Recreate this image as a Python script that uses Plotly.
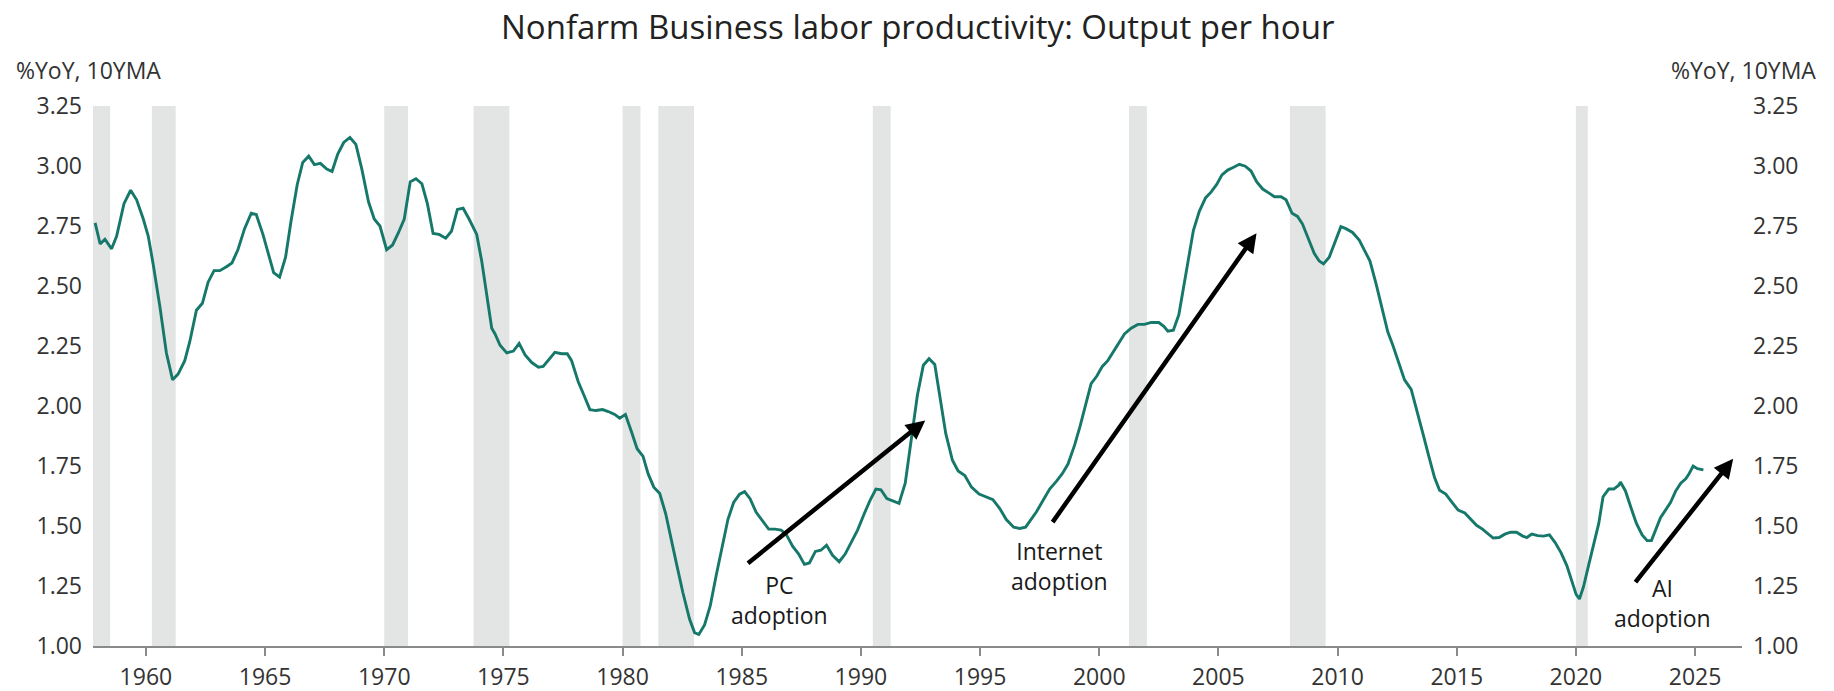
import plotly.graph_objects as go

years = [
    1957.87, 1958.08, 1958.28, 1958.56, 1958.77, 1959.08, 1959.36, 1959.61, 1959.89,
    1960.10, 1960.31, 1960.59, 1960.86, 1961.12, 1961.35, 1961.63, 1961.84, 1962.12,
    1962.37, 1962.61, 1962.86, 1963.10, 1963.38, 1963.61, 1963.86, 1964.14, 1964.42,
    1964.63, 1964.91, 1965.12, 1965.36, 1965.61, 1965.86, 1966.09, 1966.35, 1966.58,
    1966.83, 1967.07, 1967.32, 1967.59, 1967.81, 1968.05, 1968.30, 1968.56, 1968.81,
    1969.06, 1969.34, 1969.58, 1969.82, 1970.10, 1970.35, 1970.60, 1970.84, 1971.09,
    1971.33, 1971.58, 1971.81, 1972.05, 1972.30, 1972.58, 1972.82, 1973.07, 1973.31,
    1973.56, 1973.88, 1974.09, 1974.30, 1974.51, 1974.65, 1974.86, 1975.14, 1975.42,
    1975.66, 1975.91, 1976.19, 1976.47, 1976.67, 1976.93, 1977.16, 1977.44, 1977.68,
    1977.86, 1978.14, 1978.38, 1978.63, 1978.88, 1979.16, 1979.40, 1979.67, 1979.88,
    1980.12, 1980.37, 1980.61, 1980.86, 1981.07, 1981.31, 1981.56, 1981.81, 1982.05,
    1982.28, 1982.53, 1982.81, 1983.02, 1983.20, 1983.44, 1983.68, 1983.93, 1984.21,
    1984.42, 1984.66, 1984.91, 1985.12, 1985.35, 1985.60, 1985.86, 1986.13, 1986.40,
    1986.65, 1986.86, 1987.14, 1987.39, 1987.63, 1987.84, 1988.09, 1988.32, 1988.56,
    1988.81, 1989.09, 1989.34, 1989.58, 1989.86, 1990.14, 1990.38, 1990.63, 1990.84,
    1991.09, 1991.33, 1991.60, 1991.86, 1992.09, 1992.37, 1992.62, 1992.86, 1993.10,
    1993.31, 1993.56, 1993.84, 1994.08, 1994.36, 1994.64, 1994.96, 1995.27, 1995.54,
    1995.82, 1996.10, 1996.41, 1996.66, 1996.91, 1997.15, 1997.36, 1997.64, 1997.92,
    1998.20, 1998.45, 1998.69, 1998.97, 1999.20, 1999.46, 1999.66, 1999.90, 2000.13,
    2000.36, 2000.57, 2000.82, 2001.06, 2001.34, 2001.62, 2001.90, 2002.18, 2002.50,
    2002.71, 2002.88, 2003.11, 2003.34, 2003.58, 2003.76, 2003.95, 2004.20, 2004.46,
    2004.69, 2004.93, 2005.15, 2005.39, 2005.64, 2005.88, 2006.13, 2006.37, 2006.61,
    2006.86, 2007.11, 2007.35, 2007.63, 2007.84, 2008.09, 2008.32, 2008.53, 2008.79,
    2009.02, 2009.23, 2009.41, 2009.65, 2009.90, 2010.14, 2010.35, 2010.63, 2010.91,
    2011.12, 2011.36, 2011.62, 2011.87, 2012.11, 2012.32, 2012.57, 2012.81, 2013.09,
    2013.34, 2013.58, 2013.83, 2014.07, 2014.28, 2014.54, 2014.78, 2015.06, 2015.34,
    2015.58, 2015.83, 2016.08, 2016.32, 2016.53, 2016.78, 2017.02, 2017.26, 2017.51,
    2017.77, 2017.94, 2018.15, 2018.40, 2018.64, 2018.89, 2019.13, 2019.38, 2019.62,
    2019.83, 2020.01, 2020.15, 2020.32, 2020.53, 2020.74, 2020.96, 2021.14, 2021.38,
    2021.59, 2021.80, 2021.87, 2022.08, 2022.32, 2022.54, 2022.78, 2022.99, 2023.17,
    2023.34, 2023.55, 2023.76, 2023.97, 2024.19, 2024.40, 2024.61, 2024.75, 2024.92,
    2025.10, 2025.35,
]

values = [
    2.763, 2.675, 2.695, 2.655, 2.707, 2.843, 2.899, 2.859, 2.779,
    2.707, 2.588, 2.412, 2.221, 2.109, 2.133, 2.189, 2.268, 2.399,
    2.428, 2.516, 2.564, 2.564, 2.580, 2.596, 2.651, 2.739, 2.803,
    2.798, 2.715, 2.636, 2.556, 2.537, 2.620, 2.771, 2.923, 3.015,
    3.041, 3.006, 3.011, 2.987, 2.977, 3.050, 3.098, 3.119, 3.090,
    2.987, 2.851, 2.779, 2.750, 2.651, 2.671, 2.723, 2.779, 2.934,
    2.947, 2.926, 2.843, 2.719, 2.715, 2.699, 2.728, 2.819, 2.824,
    2.779, 2.715, 2.604, 2.460, 2.324, 2.300, 2.253, 2.221, 2.229,
    2.261, 2.213, 2.181, 2.162, 2.165, 2.197, 2.224, 2.218, 2.218,
    2.189, 2.101, 2.045, 1.985, 1.981, 1.985, 1.977, 1.965, 1.949,
    1.965, 1.894, 1.822, 1.790, 1.718, 1.662, 1.635, 1.551, 1.447,
    1.335, 1.223, 1.112, 1.056, 1.048, 1.088, 1.168, 1.295, 1.431,
    1.527, 1.598, 1.633, 1.643, 1.614, 1.558, 1.522, 1.487, 1.487,
    1.483, 1.466, 1.415, 1.383, 1.340, 1.346, 1.394, 1.399, 1.420,
    1.378, 1.351, 1.383, 1.431, 1.483, 1.551, 1.606, 1.654, 1.651,
    1.614, 1.606, 1.594, 1.678, 1.854, 2.045, 2.170, 2.197, 2.173,
    2.045, 1.886, 1.774, 1.729, 1.710, 1.662, 1.633, 1.622, 1.610,
    1.574, 1.527, 1.495, 1.490, 1.495, 1.527, 1.558, 1.606, 1.654,
    1.686, 1.718, 1.758, 1.838, 1.917, 2.013, 2.093, 2.125, 2.165,
    2.189, 2.221, 2.261, 2.300, 2.324, 2.340, 2.340, 2.348, 2.348,
    2.332, 2.312, 2.316, 2.380, 2.524, 2.636, 2.731, 2.811, 2.867,
    2.891, 2.923, 2.963, 2.983, 2.995, 3.007, 2.999, 2.979, 2.934,
    2.904, 2.888, 2.872, 2.872, 2.859, 2.803, 2.790, 2.758, 2.691,
    2.636, 2.604, 2.592, 2.620, 2.683, 2.747, 2.739, 2.723, 2.691,
    2.651, 2.604, 2.508, 2.412, 2.308, 2.253, 2.181, 2.109, 2.069,
    1.981, 1.886, 1.790, 1.702, 1.649, 1.633, 1.602, 1.566, 1.554,
    1.527, 1.503, 1.487, 1.466, 1.450, 1.452, 1.466, 1.474, 1.474,
    1.458, 1.452, 1.466, 1.460, 1.458, 1.463, 1.431, 1.388, 1.335,
    1.271, 1.215, 1.196, 1.247, 1.335, 1.423, 1.511, 1.622, 1.654,
    1.654, 1.670, 1.683, 1.646, 1.574, 1.511, 1.463, 1.439, 1.439,
    1.479, 1.535, 1.566, 1.598, 1.646, 1.678, 1.697, 1.718, 1.750,
    1.739, 1.734,
]

# NBER recessions (quarterly shading)
rec_start = [1957.75, 1960.25, 1970.00, 1973.75, 1980.00, 1981.50, 1990.50, 2001.25, 2008.00, 2020.00]
rec_end = [1958.50, 1961.25, 1971.00, 1975.25, 1980.75, 1983.00, 1991.25, 2002.00, 2009.50, 2020.50]

x_ticks = [1960, 1965, 1970, 1975, 1980, 1985, 1990, 1995, 2000, 2005, 2010, 2015, 2020, 2025]
y_ticks = [1.00, 1.25, 1.50, 1.75, 2.00, 2.25, 2.50, 2.75, 3.00, 3.25]

title_text = "Nonfarm Business labor productivity: Output per hour"
axis_label = "%YoY, 10YMA"

# arrows: (tail_x, tail_y, head_x, head_y)
arrows = [
    (1985.2, 1.34, 1992.7, 1.94),
    (1998.0, 1.51, 2006.6, 2.72),
    (2022.45, 1.26, 2026.6, 1.78),
]
arrow_labels = [
    (1986.6, 1.19, "PC<br>adoption"),
    (1998.35, 1.335, "Internet<br>adoption"),
    (2023.65, 1.18, "AI<br>adoption"),
]

FONT = "Open Sans, Noto Sans, sans-serif"
TXT = "#333333"
LINE = "#15786a"

PLOT_TOP, PLOT_BOTTOM = 106, 646
PLOT_H = PLOT_BOTTOM - PLOT_TOP


def paper_y(px):
    return (PLOT_BOTTOM - px) / PLOT_H


fig = go.Figure()
fig.add_trace(go.Scatter(x=years, y=values, mode="lines",
                         line=dict(color=LINE, width=2.9), hoverinfo="x+y",
                         showlegend=False))
fig.add_trace(go.Scatter(x=years, y=values, mode="lines", yaxis="y2",
                         line=dict(color="rgba(0,0,0,0)", width=0), hoverinfo="skip",
                         showlegend=False))

for s, e in zip(rec_start, rec_end):
    fig.add_shape(type="rect", xref="x", yref="y domain", x0=s, x1=e, y0=0, y1=1,
                  fillcolor="#e3e4e4", line=dict(width=0), layer="below")

annotations = []
for tx, ty, hx, hy in arrows:
    annotations.append(dict(x=hx, y=hy, ax=tx, ay=ty, xref="x", yref="y",
                            axref="x", ayref="y", text="", showarrow=True,
                            arrowhead=2, arrowsize=0.85, arrowwidth=4.5,
                            arrowcolor="#000000", standoff=0, startstandoff=0))
for lx, ly, t in arrow_labels:
    annotations.append(dict(x=lx, y=ly, xref="x", yref="y", text=t, showarrow=False,
                            font=dict(family=FONT, size=23, color="#1a1a1a"),
                            align="center", xanchor="center", yanchor="middle"))
annotations.append(dict(x=-0.048, y=paper_y(70), xref="paper", yref="paper", text=axis_label,
                        showarrow=False, xanchor="left", yanchor="middle",
                        font=dict(family=FONT, size=23, color=TXT)))
annotations.append(dict(x=1.046, y=paper_y(70), xref="paper", yref="paper", text=axis_label,
                        showarrow=False, xanchor="right", yanchor="middle",
                        font=dict(family=FONT, size=23, color=TXT)))
annotations.append(dict(x=0.5, y=paper_y(26), xref="paper", yref="paper", text=title_text,
                        showarrow=False, xanchor="center", yanchor="middle",
                        font=dict(family=FONT, size=33, color="#222222")))

fig.update_layout(
    width=1834, height=691,
    margin=dict(l=93, r=92, t=PLOT_TOP, b=691 - PLOT_BOTTOM, autoexpand=False),
    paper_bgcolor="white", plot_bgcolor="white",
    annotations=annotations,
    xaxis=dict(range=[1957.78, 2026.97], tickvals=x_ticks, ticktext=[str(t) for t in x_ticks],
               showgrid=False, zeroline=False, showline=True, linecolor="#8a8a8a", linewidth=1.5,
               ticks="outside", ticklen=8, tickwidth=1.5, tickcolor="#8a8a8a",
               automargin=False, ticklabelstandoff=2,
               tickfont=dict(family=FONT, size=23, color=TXT)),
    yaxis=dict(range=[1.0, 3.25], tickvals=y_ticks, ticktext=[f"{v:.2f}" for v in y_ticks],
               showgrid=False, zeroline=False, showline=False, ticks="",
               ticklabelstandoff=10, automargin=False,
               tickfont=dict(family=FONT, size=23, color=TXT)),
    yaxis2=dict(range=[1.0, 3.25], tickvals=y_ticks, ticktext=[f"{v:.2f}" for v in y_ticks],
                overlaying="y", side="right", showgrid=False, zeroline=False, showline=False,
                ticks="", ticklabelstandoff=10, automargin=False,
                tickfont=dict(family=FONT, size=23, color=TXT)),
)

fig.write_html(
    "out.html",
    config={"displayModeBar": False},
    post_script="document.body.style.margin='0';document.body.style.padding='0';"
                "document.documentElement.style.overflow='hidden';",
)
